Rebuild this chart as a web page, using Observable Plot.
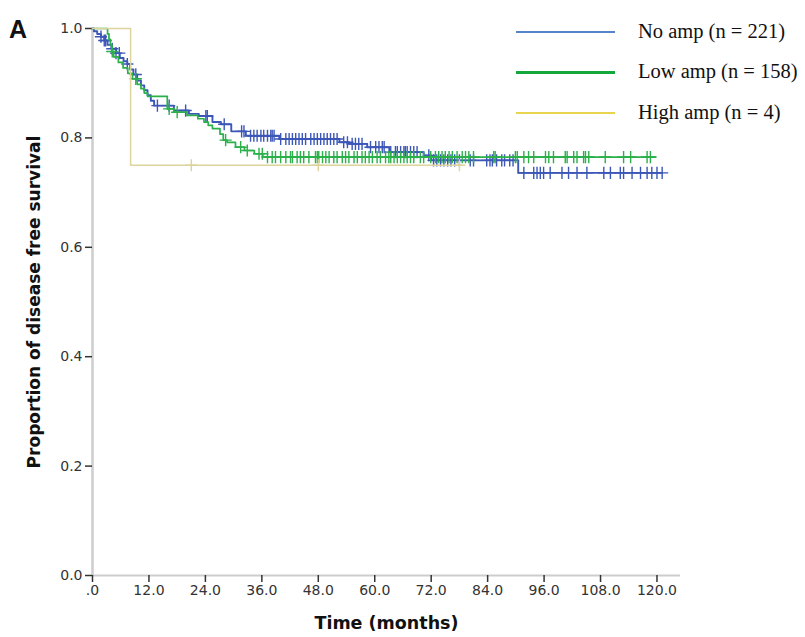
<!DOCTYPE html>
<html><head><meta charset="utf-8">
<script src="https://cdn.jsdelivr.net/npm/d3@7"></script>
<script src="https://cdn.jsdelivr.net/npm/@observablehq/plot@0.6"></script>
<style>
body{margin:0;background:#fff;}
#wrap{position:relative;width:805px;height:637px;overflow:hidden;}
#wrap svg{position:absolute;left:0;top:0;}
.panel{position:absolute;left:9px;top:15px;font:bold 25px "Liberation Sans",Arial,sans-serif;color:#111;}
.lg-line{position:absolute;height:2px;}
.lg-text{position:absolute;font:20.5px "Liberation Serif","Times New Roman",serif;color:#111;white-space:nowrap;line-height:24px;}
</style></head>
<body><div id="wrap"></div>
<script>
// ---- data ----
const seriesNames = ["No amp (n = 221)", "Low amp (n = 158)", "High amp (n = 4)"];
const seriesColors = ["#3c57b8", "#2bb04a", "#dcd49a"];
const legendColors = ["#5584c9", "#14a83c", "#e8d44e"];

const noAmpT = [0, 0.3, 1, 1.8, 2.5, 3.2, 4, 5, 5.8, 6.6, 7.4, 8, 8.7, 9.5, 10.3, 11, 11.7, 12.4, 13.1, 17.3, 20.5, 22.6, 25.5, 27.3, 29.5, 32.6, 39.7, 52.5, 54.5, 58.4, 63.1, 70.4, 72, 90.5, 121];
const noAmpS = [1, 0.995, 0.99, 0.985, 0.978, 0.97, 0.963, 0.955, 0.946, 0.94, 0.935, 0.925, 0.916, 0.905, 0.896, 0.887, 0.878, 0.868, 0.859, 0.85, 0.844, 0.84, 0.829, 0.825, 0.812, 0.804, 0.798, 0.792, 0.789, 0.783, 0.774, 0.768, 0.759, 0.736, 0.736];
const noAmpCensor = [1.8, 2.5, 2.8, 4.2, 5, 5.7, 7.4, 9.2, 13.8, 16.3, 19.8, 24.1, 24.4, 28, 31.7, 32.2, 33.6, 34.3, 35, 35.8, 36.4, 37.2, 37.9, 38.2, 38.6, 40, 41.1, 41.8, 42.5, 43.2, 43.9, 44.6, 45.3, 46.4, 47.1, 47.8, 48.5, 49.2, 49.9, 50.6, 51.3, 52, 53.4, 54.2, 55.2, 55.9, 56.6, 57.3, 59.1, 60.2, 60.9, 61.6, 62, 63.4, 64.4, 64.8, 65.5, 66.2, 66.5, 66.9, 67.6, 68.3, 69, 71.5, 72.5, 73.2, 74, 74.7, 75.5, 76.2, 77, 78, 80.3, 81, 83.8, 84.5, 85, 85.9, 87, 87.6, 88.7, 89.4, 91.7, 93.8, 94.5, 95.2, 95.9, 97.3, 99.8, 101.2, 103, 105.1, 108.7, 110.1, 112.2, 112.9, 114.7, 116.5, 117.9, 118.9, 120, 121.1];

const lowAmpT = [0, 3.2, 3.5, 3.8, 4.1, 4.5, 5.5, 6.5, 7.5, 8.5, 9.5, 10.3, 11, 11.7, 15.9, 17.3, 20.1, 22.4, 23.7, 24.6, 25.5, 27.1, 27.8, 28.6, 30.4, 32.3, 34.4, 36.2, 119.7];
const lowAmpS = [1, 0.99, 0.98, 0.97, 0.958, 0.948, 0.938, 0.928, 0.918, 0.908, 0.898, 0.89, 0.882, 0.876, 0.853, 0.847, 0.841, 0.835, 0.829, 0.823, 0.817, 0.807, 0.796, 0.792, 0.783, 0.777, 0.771, 0.765, 0.765];
const lowAmpCensor = [4.2, 9.2, 16.3, 18, 28.3, 31.5, 32.9, 35.4, 36.1, 37.2, 38.2, 38.9, 40, 41.1, 42.1, 42.5, 43.5, 44.2, 44.9, 46, 47.4, 47.8, 48.1, 48.9, 49.6, 50.3, 51.3, 52, 53.1, 53.8, 54.5, 55.6, 56.3, 57.3, 58, 58.8, 59.5, 60.5, 61.2, 62.3, 63, 63.4, 64.1, 64.8, 65.5, 66.2, 66.9, 67.6, 68.3, 69.7, 70.4, 71.9, 72.9, 73.6, 74.3, 75, 75.8, 76.5, 77.5, 78.6, 79.3, 80, 81, 85.3, 85.6, 89.9, 90.3, 91.7, 92.7, 93.8, 96.3, 97, 98, 100.5, 100.9, 102.3, 103, 104.4, 104.8, 105.5, 109, 112.9, 114.4, 117.9, 118.6];

const highAmpT = [0, 8.1, 78.5];
const highAmpS = [1, 0.75, 0.75];
const highAmpCensor = [21, 48, 78];

const xTicks = [0, 12, 24, 36, 48, 60, 72, 84, 96, 108, 120];
const xTickLabels = [".0", "12.0", "24.0", "36.0", "48.0", "60.0", "72.0", "84.0", "96.0", "108.0", "120.0"];
const yTicks = [0, 0.2, 0.4, 0.6, 0.8, 1.0];
const yTickLabels = ["0.0", "0.2", "0.4", "0.6", "0.8", "1.0"];
const xTitle = "Time (months)";
const yTitle = "Proportion of disease free survival";
const panelLabel = "A";

// ---- build tables ----
function steps(T, S) { return T.map((t, i) => ({t, s: S[i]})); }
function censors(C, T, S) {
  return C.map(c => ({t: c, s: S[Math.max(0, d3.bisectRight(T, c) - 1)]}));
}
const curves = [
  {steps: steps(noAmpT, noAmpS), cens: censors(noAmpCensor, noAmpT, noAmpS), color: seriesColors[0], w: 1.9},
  {steps: steps(lowAmpT, lowAmpS), cens: censors(lowAmpCensor, lowAmpT, lowAmpS), color: seriesColors[1], w: 1.7},
  {steps: steps(highAmpT, highAmpS), cens: censors(highAmpCensor, highAmpT, highAmpS), color: seriesColors[2], w: 1.5}
];
const xLab = new Map(xTicks.map((d, i) => [d, xTickLabels[i]]));
const yLab = new Map(yTicks.map((d, i) => [d, yTickLabels[i]]));

const marks = [
  Plot.ruleY([0], {stroke: "#cdcdcd", strokeWidth: 2}),
  Plot.ruleX([0], {stroke: "#cdcdcd", strokeWidth: 2.5}),
  Plot.axisY(yTicks, {tickFormat: d => yLab.get(d), tickSize: 7, tickPadding: 3, stroke: "#333", fill: "#333", fontSize: 14, label: null, strokeWidth: 1.5}),
  Plot.axisX(xTicks, {tickFormat: d => xLab.get(d), tickSize: 7, tickPadding: 3, stroke: "#333", fill: "#333", fontSize: 14, label: null, strokeWidth: 1.5}),
  Plot.text([yTitle], {frameAnchor: "left", textAnchor: "middle", dx: -58, rotate: -90, fontWeight: "bold", fontSize: 17, fill: "#111", fontFamily: "DejaVu Sans"}),
  Plot.text([xTitle], {frameAnchor: "bottom", textAnchor: "middle", dy: 53, fontWeight: "bold", fontSize: 17.5, fill: "#111", fontFamily: "DejaVu Sans"})
];
for (const c of curves) {
  marks.push(Plot.line(c.steps, {x: "t", y: "s", curve: "step-after", stroke: c.color, strokeWidth: c.w}));
  marks.push(Plot.dot(c.cens, {x: "t", y: "s", symbol: "plus", r: 4, stroke: c.color, strokeWidth: 1.4, fill: "none"}));
}

const chart = Plot.plot({
  width: 805, height: 637,
  marginLeft: 92, marginRight: 125, marginTop: 28, marginBottom: 62,
  style: {fontFamily: "DejaVu Sans, sans-serif", background: "white"},
  x: {domain: [0, 125], axis: null},
  y: {domain: [0, 1], axis: null},
  marks
});
const wrap = document.getElementById("wrap");
wrap.appendChild(chart);

// ---- panel label and legend ----
const pl = document.createElement("div");
pl.className = "panel"; pl.textContent = panelLabel; wrap.appendChild(pl);
const lgY = [32, 72, 113];
seriesNames.forEach((name, i) => {
  const ln = document.createElement("div");
  ln.className = "lg-line";
  ln.style.cssText = `left:516px;width:99px;top:${lgY[i] - (i === 1 ? 1.5 : 1)}px;height:${i === 1 ? 3 : 2}px;background:${legendColors[i]};`;
  wrap.appendChild(ln);
  const tx = document.createElement("div");
  tx.className = "lg-text"; tx.textContent = name;
  tx.style.left = "638px"; tx.style.top = (lgY[i] - 13) + "px";
  wrap.appendChild(tx);
});
</script>
</body></html>
